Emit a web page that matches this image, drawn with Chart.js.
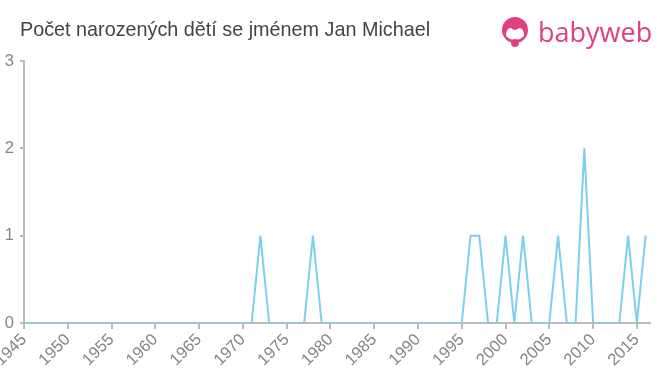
<!DOCTYPE html>
<html>
<head>
<meta charset="utf-8">
<script src="https://cdn.jsdelivr.net/npm/chart.js@4/dist/chart.umd.min.js"></script>
<style>
    html, body { margin: 0; padding: 0; background: #fff; }
    #wrap { position: relative; width: 660px; height: 375px; overflow: hidden; font-family: "Liberation Sans", Arial, sans-serif; }
    #title { position: absolute; left: 20px; top: 18px; font-size: 19.8px; color: #444; }
    #logo { position: absolute; left: 500px; top: 13px; display: flex; align-items: center; }
    #logo span { font-size: 27px; color: #e0407f; margin-left: 8px; font-family: "Open Sans", sans-serif; }
    #chart-box { position: absolute; left: 0; top: 0; width: 660px; height: 375px; }
</style>
</head>
<body>
<div id="wrap">
    <div id="chart-box"><canvas id="chart" width="660" height="375"></canvas></div>
    <div id="title">Počet narozených dětí se jménem Jan Michael</div>
    <div id="logo">
        <svg width="30" height="32" viewBox="0 0 30 32">
            <circle cx="15" cy="14" r="13" fill="#e0407f"/>
            <path d="M6 20 Q6 12 11 12 Q15 16 19 12 Q24 12 24 20 Q20 24 15 24 Q10 24 6 20 Z" fill="#fff"/>
            <circle cx="15" cy="27" r="4" fill="#e0407f"/>
        </svg>
        <span>babyweb</span>
    </div>
</div>
<script>
document.addEventListener('DOMContentLoaded', () => {
    // Years 1945 - 2016
    const years = [];
    for (let y = 1945; y <= 2016; y++) years.push(y);

    // Births per year (non-zero years only)
    const nonZero = {
        1972: 1, 1978: 1,
        1996: 1, 1997: 1, 2000: 1, 2002: 1, 2006: 1,
        2009: 2, 2014: 1, 2016: 1,
    };
    const counts = years.map((y) => nonZero[y] || 0);

    const xTicks = [1945, 1950, 1955, 1960, 1965, 1970, 1975, 1980, 1985, 1990, 1995, 2000, 2005, 2010, 2015];
    const yTicks = [0, 1, 2, 3];

    const points = years.map((y, i) => ({ x: y, y: counts[i] }));

    const axisColor = '#bbbbbb';
    const labelColor = '#858585';

    new Chart(document.getElementById('chart').getContext('2d'), {
        type: 'line',
        data: {
            datasets: [
                {
                    label: 'Jan Michael',
                    data: points,
                    borderColor: '#7dcfed',
                    borderWidth: 2,
                    pointRadius: 0,
                    fill: false,
                    tension: 0,
                },
            ],
        },
        options: {
            responsive: false,
            animation: false,
            maintainAspectRatio: false,
            layout: { padding: { top: 61, right: 10, left: 0, bottom: 0 } },
            plugins: { legend: { display: false }, tooltip: { enabled: false } },
            scales: {
                x: {
                    type: 'linear',
                    min: 1945,
                    max: 2016.5,
                    afterBuildTicks: (scale) => {
                        scale.ticks = xTicks.map((v) => ({ value: v }));
                    },
                    afterFit: (scale) => {
                        scale.paddingLeft = 0;
                        scale.paddingRight = 0;
                        scale.height = 52;
                    },
                    ticks: {
                        maxRotation: 45,
                        minRotation: 45,
                        autoSkip: false,
                        color: labelColor,
                        font: { size: 16.5, family: 'Liberation Sans' },
                        padding: 1,
                        callback: (v) => String(v),
                    },
                    grid: { drawOnChartArea: false, color: axisColor, tickLength: 6, lineWidth: 2 },
                    border: { color: axisColor, width: 2 },
                },
                y: {
                    min: 0,
                    max: 3,
                    afterBuildTicks: (scale) => {
                        scale.ticks = yTicks.map((v) => ({ value: v }));
                    },
                    afterFit: (scale) => {
                        scale.width = 24;
                    },
                    ticks: {
                        color: labelColor,
                        font: { size: 16.5, family: 'Liberation Sans' },
                        padding: 6,
                    },
                    grid: { drawOnChartArea: false, color: axisColor, tickLength: 4, lineWidth: 2 },
                    border: { color: axisColor, width: 2 },
                },
            },
        },
    });
});
</script>
</body>
</html>
